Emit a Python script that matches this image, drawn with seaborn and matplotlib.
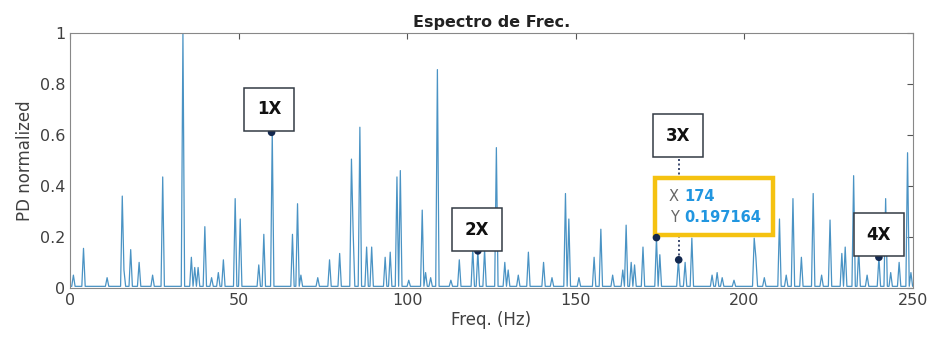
import numpy as np
import matplotlib
matplotlib.use("Agg")
import matplotlib.pyplot as plt
import seaborn as sns

# ---- data ----
peak_freqs = [0.8, 3.8, 10.9, 15.4, 16.0, 17.8, 20.7, 24.3, 27.7, 33.5, 35.8, 36.8, 37.8,
              40.2, 42.0, 44.0, 45.5, 48.9, 50.3, 55.8, 57.4, 59.8, 65.9, 67.5, 68.5,
              73.6, 77.1, 80.0, 83.4, 84.2, 86.0, 88.0, 89.5, 93.4, 95.2, 97.0, 98.0,
              100.5, 104.5, 105.5, 107.0, 109.0, 113.0, 115.5, 119.7, 121.0, 123.2,
              126.4, 128.9, 129.8, 133.0, 136.0, 140.5, 143.0, 147.1, 147.9, 151.0,
              155.7, 157.6, 161.0, 164.0, 165.1, 166.6, 167.6, 170.2, 174.0, 175.0,
              180.6, 182.4, 184.4, 190.5, 192.0, 193.5, 197.0, 203.1, 203.7, 206.0,
              210.4, 212.5, 214.5, 217.0, 220.6, 223.0, 225.4, 228.8, 229.8, 232.3,
              233.8, 236.5, 240.0, 241.9, 243.5, 246.0, 248.6, 249.5]
peak_vals = [0.05, 0.155, 0.04, 0.36, 0.07, 0.15, 0.10, 0.05, 0.435, 1.0, 0.12, 0.08, 0.08,
             0.24, 0.04, 0.06, 0.11, 0.35, 0.27, 0.09, 0.21, 0.61, 0.21, 0.33, 0.05,
             0.04, 0.11, 0.135, 0.505, 0.22, 0.63, 0.16, 0.16, 0.12, 0.14, 0.435, 0.46,
             0.03, 0.305, 0.06, 0.04, 0.856, 0.03, 0.11, 0.155, 0.145, 0.15,
             0.55, 0.10, 0.07, 0.05, 0.14, 0.10, 0.04, 0.37, 0.27, 0.04,
             0.12, 0.23, 0.05, 0.07, 0.246, 0.10, 0.09, 0.16, 0.197, 0.13,
             0.11, 0.10, 0.195, 0.05, 0.06, 0.04, 0.03, 0.195, 0.12, 0.04,
             0.27, 0.05, 0.35, 0.12, 0.37, 0.05, 0.266, 0.135, 0.16, 0.44,
             0.15, 0.05, 0.12, 0.35, 0.06, 0.10, 0.53, 0.06]
floor_level = 0.006
freq_step = 0.5
freq_max = 250.0

marker_freqs = [59.8, 121.0, 174.0, 180.6, 240.0]
marker_vals = [0.61, 0.145, 0.197164, 0.11, 0.12]

harm_labels = ["1X", "2X", "3X", "4X"]
harm_label_x = [59.0, 120.8, 180.4, 240.0]
harm_label_y = [0.70, 0.227, 0.596, 0.208]

tip_x_text = "174"
tip_y_text = "0.197164"

# ---- build spectrum samples ----
freq = np.arange(0, freq_max + freq_step / 2, freq_step)
amp = np.full(freq.shape, floor_level)
for f, v in zip(peak_freqs, peak_vals):
    i = int(round(f / freq_step))
    amp[i] = max(amp[i], v)

sns.set_style("white")
plt.rcParams['font.family'] = ['DejaVu Sans']

fig = plt.figure(figsize=(9.3, 3.46), dpi=100)
ax = fig.add_axes([0.0753, 0.168, 0.906, 0.737])

sns.lineplot(x=freq, y=amp, ax=ax, color="#4a93c4", linewidth=0.9)

ax.set_xlim(0, 250)
ax.set_ylim(0, 1)
ax.set_xticks([0, 50, 100, 150, 200, 250])
ax.set_yticks([0, 0.2, 0.4, 0.6, 0.8, 1.0])
ax.set_yticklabels(["0", "0.2", "0.4", "0.6", "0.8", "1"])
ax.tick_params(direction="in", top=True, right=True, length=4, width=0.8,
               colors="#555555", labelsize=11.5, labelcolor="#404040")
for s in ax.spines.values():
    s.set_color("#888888")
    s.set_linewidth(0.8)

ax.set_title("Espectro de Frec.", fontsize=11.5, fontweight="bold", color="#222222", pad=4)
ax.set_xlabel("Freq. (Hz)", fontsize=12, color="#404040", labelpad=2)
ax.set_ylabel("PD normalized", fontsize=12, color="#404040", labelpad=4)

# dotted datatip line for 3X
ax.plot([marker_freqs[3], marker_freqs[3]], [marker_vals[3], harm_label_y[2] - 0.07],
        linestyle=(0, (1.2, 1.5)), color="#1f2f5a", linewidth=1.2, zorder=3)

sns.scatterplot(x=marker_freqs, y=marker_vals, ax=ax, color="#13284f", s=30,
                edgecolor="none", zorder=5)

for lab, lx, ly in zip(harm_labels, harm_label_x, harm_label_y):
    ax.text(lx, ly, lab, ha="center", va="center", fontsize=12, fontweight="bold",
            color="#111111", zorder=6,
            bbox=dict(boxstyle="square,pad=0.75", facecolor="white",
                      edgecolor="#333a44", linewidth=1.1))

# datatip box
tip_left, tip_right = 173.6, 208.6
tip_bottom, tip_top = 0.208, 0.43
ax.add_patch(plt.Rectangle((tip_left, tip_bottom), tip_right - tip_left, tip_top - tip_bottom,
                           facecolor="white", edgecolor="#f5c211", linewidth=3.2, zorder=4))
ax.text(179.2, 0.357, "X", ha="center", va="center", fontsize=10.5, color="#666666", zorder=6)
ax.text(179.2, 0.275, "Y", ha="center", va="center", fontsize=10.5, color="#666666", zorder=6)
ax.text(182.2, 0.357, tip_x_text, ha="left", va="center", fontsize=10.5,
        fontweight="bold", color="#2196e0", zorder=6)
ax.text(182.2, 0.275, tip_y_text, ha="left", va="center", fontsize=10.5,
        fontweight="bold", color="#2196e0", zorder=6)

fig.savefig("out.png", dpi=100)
